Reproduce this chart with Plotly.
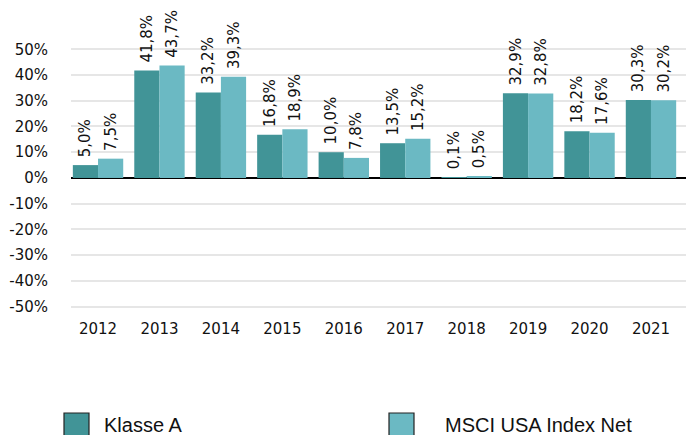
import plotly.graph_objects as go

years = ["2012", "2013", "2014", "2015", "2016", "2017", "2018", "2019", "2020", "2021"]
klasse_a = [5.0, 41.8, 33.2, 16.8, 10.0, 13.5, 0.1, 32.9, 18.2, 30.3]
msci = [7.5, 43.7, 39.3, 18.9, 7.8, 15.2, 0.5, 32.8, 17.6, 30.2]
series_names = ["Klasse A", "MSCI USA Index Net"]
colors = ["#419497", "#6bb9c3"]
y_ticks = [-50, -40, -30, -20, -10, 0, 10, 20, 30, 40, 50]

W, H = 686, 435
ML, MR, MT, MB = 71, 0, 5, 117
pw = W - ML - MR
ph = H - MT - MB

fig = go.Figure()
for name, vals, col in zip(series_names, [klasse_a, msci], colors):
    fig.add_trace(go.Bar(
        x=list(range(len(years))), y=vals, name=name,
        marker=dict(color=col, line=dict(width=0)),
        texttemplate="\u00a0%{y:.1f}%", textposition="outside", textangle=-90,
        constraintext="none",
        textfont=dict(family="DejaVu Sans", size=15, color="#111111"),
        cliponaxis=False, showlegend=False,
    ))

fig.update_layout(
    width=W, height=H,
    margin=dict(l=ML, r=MR, t=MT, b=MB, pad=0, autoexpand=False),
    paper_bgcolor="white", plot_bgcolor="white",
    barmode="group", bargap=0.18, bargroupgap=0,
    separators=",.",
    font=dict(family="DejaVu Sans", size=15, color="#111111"),
    xaxis=dict(
        range=[-0.44, 9.57], tickvals=list(range(len(years))), ticktext=years,
        showgrid=False, zeroline=False, showline=False, ticks="",
        tickfont=dict(family="DejaVu Sans", size=15, color="#111111"),
    ),
    yaxis=dict(
        range=[-54.4, 67.2], tickvals=y_ticks,
        ticktext=[f"{v}%" for v in y_ticks],
        showgrid=True, gridcolor="#e6e6e6", gridwidth=1.5,
        zeroline=True, zerolinecolor="#000000", zerolinewidth=1.5,
        showline=False, ticks="", ticklabelstandoff=22,
        tickfont=dict(family="DejaVu Sans", size=15, color="#111111"),
    ),
)

# legend drawn as swatches + labels
legend_items = [(64, 102), (389, 443)]
for (sx, tx), name, col in zip(legend_items, series_names, colors):
    fig.add_shape(type="rect", xref="paper", yref="paper",
                  x0=(sx - ML) / pw, x1=(sx + 25 - ML) / pw,
                  y0=(MT + ph - 413) / ph, y1=(MT + ph - 440) / ph,
                  fillcolor=col, line=dict(color="#222222", width=1.2))
    fig.add_annotation(xref="paper", yref="paper",
                       x=(tx - ML) / pw, y=(MT + ph - 425) / ph,
                       xanchor="left", yanchor="middle", showarrow=False,
                       text=name, font=dict(family="Liberation Sans", size=20, color="#111111"))

fig.write_html("out.html", config={"displayModeBar": False})
with open("out.html", "r", encoding="utf-8") as f:
    html = f.read()
html = html.replace("<body>", '<body style="margin:0;padding:0;overflow:hidden">', 1)
with open("out.html", "w", encoding="utf-8") as f:
    f.write(html)
